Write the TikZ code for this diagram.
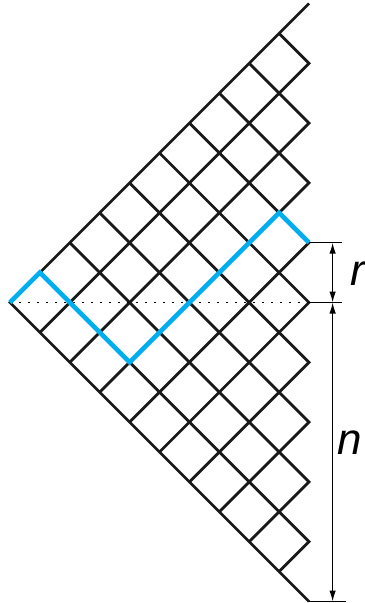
\documentclass[tikz,border=0pt]{standalone}
\usepackage{fontspec}
\setmainfont{Liberation Sans}
\usetikzlibrary{arrows.meta}
\definecolor{walkblue}{RGB}{0,174,239}
\begin{document}
\begin{tikzpicture}[x=29.9pt,y=29.9pt,
  lattice/.style={line width=2.8pt,black!90},
  walk/.style={line width=4.6pt,walkblue},
  tick/.style={line width=1.2pt},
  dimarrow/.style={line width=1.2pt,{Latex[length=11pt,width=6.5pt]}-{Latex[length=11pt,width=6.5pt]}},
  lbl/.style={anchor=west,inner sep=0pt,font=\fontsize{44}{44}\selectfont\itshape}]
\useasboundingbox (-0.334,-10.05) rectangle (11.84,10.117);
% lattice of the walks
\draw[lattice] (10,10)--(0,0)--(10,-10);
\foreach \k in {1,...,9}{\draw[lattice] (\k,-\k)--(10,10-2*\k)--(10-\k,10-\k);}
\draw[dash pattern=on 1.8pt off 7.2pt,line width=1.8pt] (0,0)--(10,0);
\draw[walk] (0,0)--(1,1)--(4,-2)--(9,3)--(10,2);
% dimensions
\coordinate (endr) at (10,2); \coordinate (endo) at (10,0); \coordinate (endn) at (10,-10);
\coordinate (rtop) at (10.79,2); \coordinate (rbot) at (10.79,0); \coordinate (nbot) at (10.79,-10);
\draw[tick] (endr)--++(1.1,0); \draw[tick] (endo)--++(1.1,0); \draw[tick] (endn)--++(1.25,0);
\draw[dimarrow] (rtop)--(rbot);
\draw[dimarrow] (rbot)--(nbot);
\node[lbl] (r) at (11.37,0.97) {r};
\node[lbl] (n) at (10.94,-4.7) {n};
\end{tikzpicture}
\end{document}
